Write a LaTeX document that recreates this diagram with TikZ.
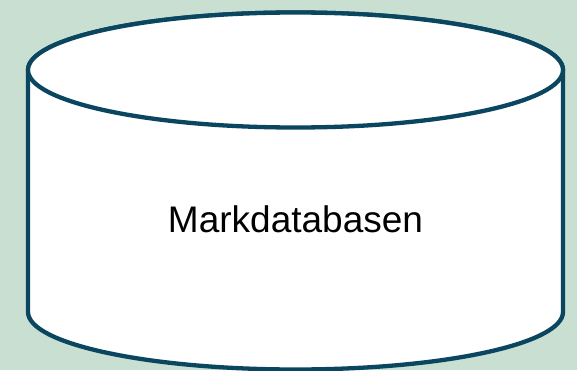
\documentclass[tikz,border=0pt]{standalone}
\usepackage{fontspec}
\setmainfont{Liberation Sans}
\usetikzlibrary{positioning}
\definecolor{bgmint}{HTML}{C8DFD2}
\definecolor{dbedge}{HTML}{0B4660}

\begin{document}
\begin{tikzpicture}[x=1pt, y=1pt,
	dbbody/.style={draw=dbedge, fill=white, line width=4.3pt, line join=round},
	dblabel/.style={draw=none, font=\fontsize{37}{44}\selectfont, text=black, inner sep=0pt}
	]
	
	% Background
	\fill[bgmint] (0,0) rectangle (577,370);
	\useasboundingbox (0,0) rectangle (577,370);
	
	% Cylinder corners
	\coordinate (TL) at (28,300);
	\coordinate (TR) at (563,300);
	\coordinate (BL) at (28,58);
	\coordinate (BR) at (563,58);
	
	% Body and top cap
	\path[dbbody] (TL) -- (BL) arc[start angle=180, end angle=360, x radius=267.5pt, y radius=57.5pt]
		-- (TR) arc[start angle=0, end angle=180, x radius=267.5pt, y radius=57.5pt] -- cycle;
	\draw[dbbody] (295.5,300) ellipse[x radius=267.5pt, y radius=57.5pt];
	
	\node[dblabel] (db) at (295.5,151) {Markdatabasen};

\end{tikzpicture}
\end{document}
